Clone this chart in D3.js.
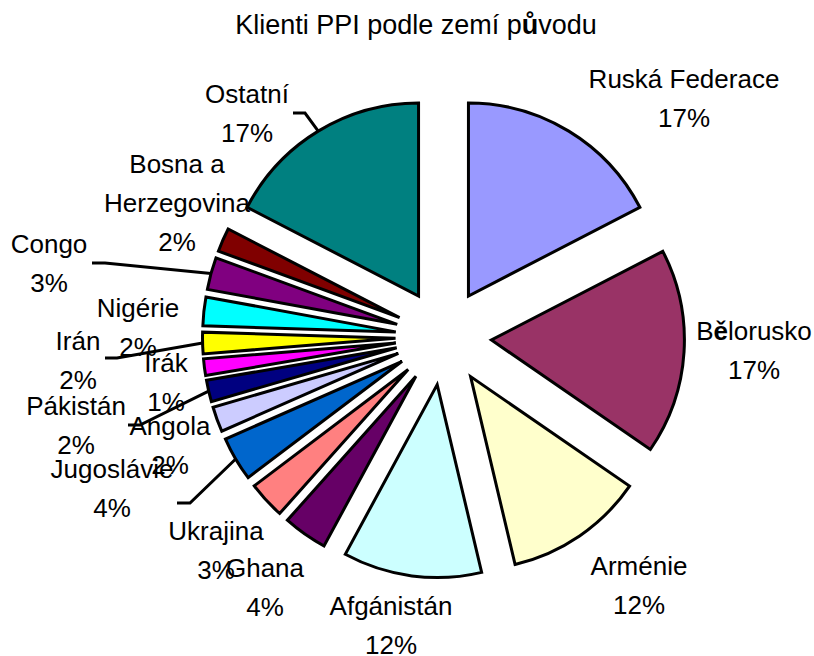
<!DOCTYPE html>
<html><head><meta charset="utf-8">
<script src="https://cdn.jsdelivr.net/npm/d3@7"></script>
<style>body{margin:0;background:#fff}svg{display:block}</style>
</head><body>
<svg id="c" width="814" height="656"></svg>
<script>
// ---- data ----
const title = "Klienti PPI podle zemí původu";
const categories = ["Ruská Federace","Bělorusko","Arménie","Afgánistán","Ghana","Ukrajina","Jugoslávie","Angola","Pákistán","Irák","Irán","Nigérie","Congo","Bosna a Herzegovina","Ostatní"];
const values = [17.4,17.2,11.7,11.6,3.7,3.1,3.7,2.1,1.8,1.4,1.8,2.4,2.7,2.0,17.4];
const colors = ["#9999FF","#993366","#FFFFCC","#CCFFFF","#660066","#FF8080","#0066CC","#CCCCFF","#000080","#FF00FF","#FFFF00","#00FFFF","#800080","#800000","#008080"];
const labelLines = [["Ruská Federace"],["Bělorusko"],["Arménie"],["Afgánistán"],["Ghana"],["Ukrajina"],["Jugoslávie"],["Angola"],["Pákistán"],["Irák"],["Irán"],["Nigérie"],["Congo"],["Bosna a","Herzegovina"],["Ostatní"]];

// ---- layout (not data) ----
const cx = 443.5, cy = 337, R = 193, explode = 48;
const lineGap = 39;
// label block: center x, first-line cap-center y
const labelLayout = [[684,78],[754,330],[639,565],[391,605],[265,567],[216,530],[112,468],[170,425],[76,405],[166,362],[78,340],[138,307],[49,243],[177,163],[247,93]];
// leader lines: elbow start points (category index -> [x0,y0,x1,y1])
const leaders = {14:[293,113,305,113], 12:[92,263,105,263], 10:[105,358,117,358], 8:[128,425,140,425], 6:[177,503,190,503]};

const svg = d3.select("#c");
const font = "'Liberation Sans', Arial, sans-serif";

function richText(sel, str){
  // characters outside Latin-1 appear bold in the original rendering
  const parts = str.match(/[\u0000-\u00ff]+|[^\u0000-\u00ff]+/g);
  parts.forEach(p=>{
    sel.append("tspan").attr("font-weight", /[^\u0000-\u00ff]/.test(p)?"bold":null).text(p);
  });
}

// title
const t = svg.append("text").attr("x",416).attr("y",34).attr("text-anchor","middle")
  .attr("font-family",font).attr("font-size",27).attr("fill","#000");
richText(t, title);

const total = d3.sum(values);
const pie = d3.pie().sort(null).value(d=>d).startAngle(0).endAngle(2*Math.PI);
const arcs = pie(values);
const arcGen = d3.arc().innerRadius(0).outerRadius(R);

const g = svg.append("g").attr("transform",`translate(${cx},${cy})`);
g.selectAll("path.slice").data(arcs).join("path")
  .attr("class","slice")
  .attr("d",arcGen)
  .attr("transform",d=>{const m=(d.startAngle+d.endAngle)/2;return `translate(${explode*Math.sin(m)},${-explode*Math.cos(m)})`;})
  .attr("fill",(d,i)=>colors[i])
  .attr("stroke","#000").attr("stroke-width",3).attr("stroke-linejoin","miter");

// leader lines
Object.keys(leaders).forEach(k=>{
  const i=+k, a=arcs[i], m=(a.startAngle+a.endAngle)/2, rr=R+explode;
  const ex = cx+rr*Math.sin(m), ey = cy-rr*Math.cos(m);
  const p = leaders[k];
  svg.append("polyline").attr("points",`${p[0]},${p[1]} ${p[2]},${p[3]} ${ex},${ey}`)
    .attr("fill","none").attr("stroke","#000").attr("stroke-width",3);
});

// labels
const pctFmt = v => Math.round(v/total*100)+"%";
arcs.forEach((a,i)=>{
  const lines = labelLines[i].concat([pctFmt(values[i])]);
  const [lx,ly] = labelLayout[i];
  lines.forEach((ln,j)=>{
    const tx = svg.append("text").attr("x",lx).attr("y",ly+9.5+j*lineGap)
      .attr("text-anchor","middle").attr("font-family",font).attr("font-size",26).attr("fill","#000");
    richText(tx, ln);
  });
});
</script>
</body></html>
